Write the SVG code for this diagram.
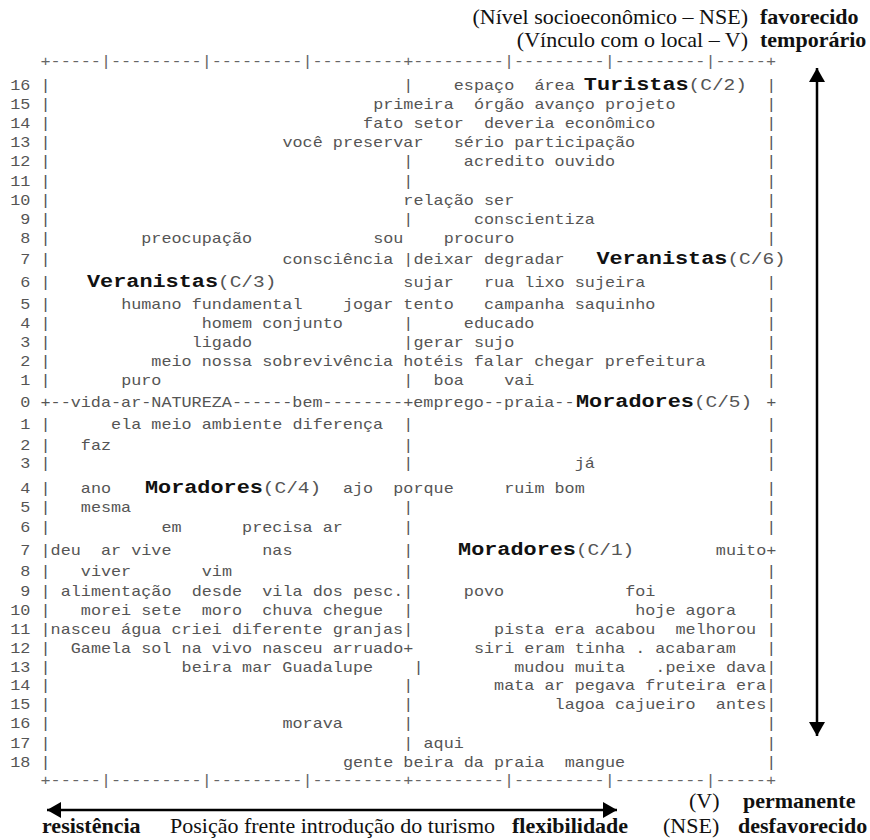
<svg xmlns="http://www.w3.org/2000/svg" width="870" height="840" viewBox="0 0 870 840">
<defs>
<marker id="ah" viewBox="0 0 14 16" refX="14" refY="8" markerWidth="14" markerHeight="16" markerUnits="userSpaceOnUse" orient="auto-start-reverse"><path d="M0,0 L14,8 L0,16 z" fill="#000"/></marker>
</defs>
<style>
.m{font-family:"Liberation Mono","DejaVu Sans Mono",monospace;font-size:14px;fill:#555}
.b{font-weight:bold;font-size:18.2px;fill:#111}
.c{font-size:16.2px}
.bd{fill:#666}
.s{font-family:"Liberation Serif","Times New Roman",serif;font-size:22px;fill:#111}
.sb{font-weight:bold}
.ax{stroke:#000;stroke-width:2.5;fill:none;marker-start:url(#ah);marker-end:url(#ah)}
</style>
<rect width="870" height="840" fill="#fff"/>
<g id="header">
<text class="s" x="748" y="24" text-anchor="end">(Nível socioeconômico – NSE)</text>
<text class="s sb" x="760" y="24">favorecido</text>
<text class="s" x="748" y="47" text-anchor="end">(Vínculo com o local – V)</text>
<text class="s sb" x="760" y="47">temporário</text>
</g>
<g id="footer">
<text class="s" x="689" y="808">(V)</text>
<text class="s sb" x="743" y="808">permanente</text>
<text class="s sb" x="42" y="833">resistência</text>
<text class="s" x="170" y="833">Posição frente introdução do turismo</text>
<text class="s sb" x="512" y="833">flexibilidade</text>
<text class="s" x="663" y="833">(NSE)</text>
<text class="s sb" x="738" y="833">desfavorecido</text>
</g>
<g id="connectors">
<line class="ax" x1="47" y1="810" x2="617" y2="810"/>
<line class="ax" x1="817" y1="68" x2="817" y2="736"/>
</g>
<g id="plot" class="m" transform="scale(1.2,1)">
<text class="bd" x="33.75" y="66">+-----|---------|---------|---------+---------|---------|---------|-----+</text>
<text y="90"><tspan x="8.55">16 |</tspan><tspan x="336.15">|</tspan><tspan x="378.15">espaço</tspan><tspan x="445.35">área</tspan><tspan x="486.5" class="b">Turistas</tspan><tspan class="c">(C/2)</tspan><tspan x="638.55">|</tspan></text>
<text y="109"><tspan x="8.55">15 |</tspan><tspan x="310.95">primeira</tspan><tspan x="394.95">órgão</tspan><tspan x="445.35">avanço</tspan><tspan x="504.15">projeto</tspan><tspan x="638.55">|</tspan></text>
<text y="128"><tspan x="8.55">14 |</tspan><tspan x="302.55">fato</tspan><tspan x="344.55">setor</tspan><tspan x="403.35">deveria</tspan><tspan x="470.55">econômico</tspan><tspan x="638.55">|</tspan></text>
<text y="147"><tspan x="8.55">13 |</tspan><tspan x="235.35">você</tspan><tspan x="277.35">preservar</tspan><tspan x="378.15">sério</tspan><tspan x="428.55">participação</tspan><tspan x="638.55">|</tspan></text>
<text y="166"><tspan x="8.55">12 |</tspan><tspan x="336.15">|</tspan><tspan x="386.55">acredito</tspan><tspan x="462.15">ouvido</tspan><tspan x="638.55">|</tspan></text>
<text y="186"><tspan x="8.55">11 |</tspan><tspan x="336.15">|</tspan><tspan x="638.55">|</tspan></text>
<text y="205"><tspan x="8.55">10 |</tspan><tspan x="336.15">relação</tspan><tspan x="403.35">ser</tspan><tspan x="638.55">|</tspan></text>
<text y="224"><tspan x="16.95">9 |</tspan><tspan x="336.15">|</tspan><tspan x="394.95">conscientiza</tspan><tspan x="638.55">|</tspan></text>
<text y="243"><tspan x="16.95">8 |</tspan><tspan x="117.75">preocupação</tspan><tspan x="310.95">sou</tspan><tspan x="369.75">procuro</tspan><tspan x="638.55">|</tspan></text>
<text y="264"><tspan x="16.95">7 |</tspan><tspan x="235.35">consciência</tspan><tspan x="336.15">|deixar</tspan><tspan x="403.35">degradar</tspan><tspan x="497" class="b">Veranistas</tspan><tspan class="c">(C/6)</tspan></text>
<text y="287"><tspan x="16.95">6 |</tspan><tspan x="72.5" class="b">Veranistas</tspan><tspan class="c">(C/3)</tspan><tspan x="336.15">sujar</tspan><tspan x="403.35">rua</tspan><tspan x="436.95">lixo</tspan><tspan x="478.95">sujeira</tspan><tspan x="638.55">|</tspan></text>
<text y="309"><tspan x="16.95">5 |</tspan><tspan x="100.95">humano</tspan><tspan x="159.75">fundamental</tspan><tspan x="285.75">jogar</tspan><tspan x="336.15">tento</tspan><tspan x="403.35">campanha</tspan><tspan x="478.95">saquinho</tspan><tspan x="638.55">|</tspan></text>
<text y="328"><tspan x="16.95">4 |</tspan><tspan x="168.15">homem</tspan><tspan x="218.55">conjunto</tspan><tspan x="336.15">|</tspan><tspan x="386.55">educado</tspan><tspan x="638.55">|</tspan></text>
<text y="347"><tspan x="16.95">3 |</tspan><tspan x="159.75">ligado</tspan><tspan x="336.15">|gerar</tspan><tspan x="394.95">sujo</tspan><tspan x="638.55">|</tspan></text>
<text y="366"><tspan x="16.95">2 |</tspan><tspan x="126.15">meio nossa sobrevivência hotéis falar chegar prefeitura</tspan><tspan x="638.55">|</tspan></text>
<text y="385"><tspan x="16.95">1 |</tspan><tspan x="100.95">puro</tspan><tspan x="336.15">|</tspan><tspan x="361.35">boa</tspan><tspan x="420.15">vai</tspan><tspan x="638.55">|</tspan></text>
<text y="407"><tspan x="16.95">0 +--vida-ar-NATUREZA------bem--------+emprego--praia--</tspan><tspan x="480" class="b">Moradores</tspan><tspan class="c">(C/5)</tspan><tspan x="638.55">+</tspan></text>
<text y="429"><tspan x="16.95">1 |</tspan><tspan x="92.55">ela</tspan><tspan x="126.15">meio</tspan><tspan x="168.15">ambiente</tspan><tspan x="243.75">diferença</tspan><tspan x="336.15">|</tspan><tspan x="638.55">|</tspan></text>
<text y="450"><tspan x="16.95">2 |</tspan><tspan x="67.35">faz</tspan><tspan x="336.15">|</tspan><tspan x="638.55">|</tspan></text>
<text y="468"><tspan x="16.95">3 |</tspan><tspan x="336.15">|</tspan><tspan x="478.95">já</tspan><tspan x="638.55">|</tspan></text>
<text y="493"><tspan x="16.95">4 |</tspan><tspan x="67.35">ano</tspan><tspan x="120.8" class="b">Moradores</tspan><tspan class="c">(C/4)</tspan><tspan x="285.75">ajo</tspan><tspan x="327.75">porque</tspan><tspan x="420.15">ruim bom</tspan><tspan x="638.55">|</tspan></text>
<text y="512"><tspan x="16.95">5 |</tspan><tspan x="67.35">mesma</tspan><tspan x="336.15">|</tspan><tspan x="638.55">|</tspan></text>
<text y="532"><tspan x="16.95">6 |</tspan><tspan x="134.55">em</tspan><tspan x="201.75">precisa ar</tspan><tspan x="336.15">|</tspan><tspan x="638.55">|</tspan></text>
<text y="555"><tspan x="16.95">7 |deu</tspan><tspan x="84.15">ar vive</tspan><tspan x="218.55">nas</tspan><tspan x="336.15">|</tspan><tspan x="381.7" class="b">Moradores</tspan><tspan class="c">(C/1)</tspan><tspan x="596.55">muito+</tspan></text>
<text y="576"><tspan x="16.95">8 |</tspan><tspan x="67.35">viver</tspan><tspan x="168.15">vim</tspan><tspan x="336.15">|</tspan><tspan x="638.55">|</tspan></text>
<text y="596"><tspan x="16.95">9 |</tspan><tspan x="50.55">alimentação</tspan><tspan x="159.75">desde</tspan><tspan x="218.55">vila dos pesc.|</tspan><tspan x="386.55">povo</tspan><tspan x="520.95">foi</tspan><tspan x="638.55">|</tspan></text>
<text y="615"><tspan x="8.55">10 |</tspan><tspan x="67.35">morei sete</tspan><tspan x="168.15">moro</tspan><tspan x="218.55">chuva chegue</tspan><tspan x="336.15">|</tspan><tspan x="529.35">hoje agora</tspan><tspan x="638.55">|</tspan></text>
<text y="634"><tspan x="8.55">11 |nasceu água criei diferente granjas|</tspan><tspan x="411.75">pista era acabou</tspan><tspan x="562.95">melhorou</tspan><tspan x="638.55">|</tspan></text>
<text y="653"><tspan x="8.55">12 |</tspan><tspan x="58.95">Gamela sol na vivo nasceu arruado+</tspan><tspan x="394.95">siri eram tinha . acabaram</tspan><tspan x="638.55">|</tspan></text>
<text y="672"><tspan x="8.55">13 |</tspan><tspan x="151.35">beira mar Guadalupe</tspan><tspan x="344.55">|</tspan><tspan x="428.55">mudou muita</tspan><tspan x="546.15">.peixe dava|</tspan></text>
<text y="690"><tspan x="8.55">14 |</tspan><tspan x="336.15">|</tspan><tspan x="411.75">mata ar pegava fruteira era|</tspan></text>
<text y="709"><tspan x="8.55">15 |</tspan><tspan x="336.15">|</tspan><tspan x="462.15">lagoa cajueiro</tspan><tspan x="596.55">antes|</tspan></text>
<text y="728"><tspan x="8.55">16 |</tspan><tspan x="235.35">morava</tspan><tspan x="336.15">|</tspan><tspan x="638.55">|</tspan></text>
<text y="748"><tspan x="8.55">17 |</tspan><tspan x="336.15">| aqui</tspan><tspan x="638.55">|</tspan></text>
<text y="767"><tspan x="8.55">18 |</tspan><tspan x="285.75">gente beira da praia</tspan><tspan x="470.55">mangue</tspan><tspan x="638.55">|</tspan></text>
<text class="bd" x="33.75" y="785">+-----|---------|---------|---------+---------|---------|---------|-----+</text>
</g>
</svg>
